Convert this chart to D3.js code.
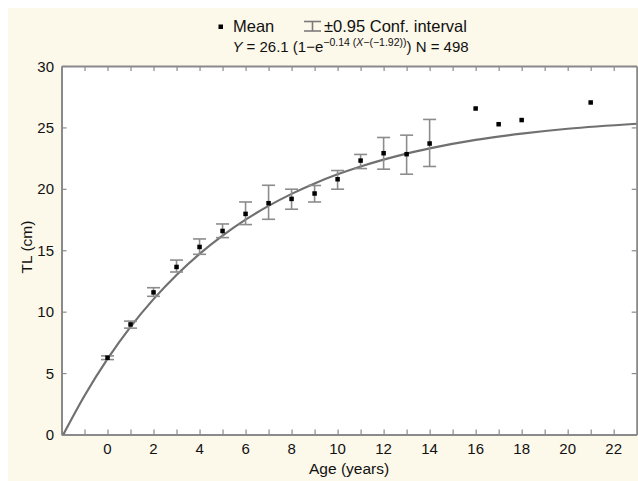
<!DOCTYPE html>
<html><head><meta charset="utf-8">
<script src="https://cdn.jsdelivr.net/npm/d3@7"></script>
<style>
html,body{margin:0;padding:0;background:#fff;}
svg{display:block;font-family:"Liberation Sans",Arial,sans-serif;}
</style></head>
<body>
<script>
// Data
const ages   = [0,1,2,3,4,5,6,7,8,9,10,11,12,13,14,16,17,18,21];
const means  = [6.25,8.96,11.57,13.64,15.27,16.57,17.96,18.83,19.18,19.62,20.78,22.3,22.9,22.82,23.69,26.54,25.26,25.6,27.03];
const ciLow  = [6.1,8.66,11.25,13.23,14.67,16.03,17.09,17.52,18.34,18.93,19.97,21.65,21.6,21.19,21.82,null,null,null,null];
const ciHigh = [6.4,9.23,11.95,14.2,15.92,17.14,18.93,20.29,19.97,20.27,21.49,22.8,24.18,24.37,25.65,null,null,null,null];
// fitted growth curve
const curveAge = [-1.92,-1,0,1,2,3,4,5,6,7,8,9,10,11,12,13,14,16,18,20,23];
const curveTL  = [0,3.15,6.15,8.76,11.02,12.99,14.7,16.19,17.49,18.61,19.59,20.44,21.18,21.82,22.38,22.87,23.29,23.98,24.49,24.89,25.3];
const xTickLabels = [0,2,4,6,8,10,12,14,16,18,20,22];
const yTickLabels = [0,5,10,15,20,25,30];

const W = 638, H = 481;
const svg = d3.select("body").append("svg").attr("width", W).attr("height", H);
svg.append("rect").attr("x", 8).attr("y", 8).attr("width", W - 8).attr("height", H - 8).attr("fill", "#fcf8ea");

const x = d3.scaleLinear().domain([-2, 23]).range([61.5, 636.7]);
const y = d3.scaleLinear().domain([0, 30]).range([434.5, 66]);

svg.append("rect").attr("x", x(-2)).attr("y", y(30)).attr("width", x(23) - x(-2)).attr("height", y(0) - y(30)).attr("fill", "#fff");

const axisCol = "#8a8a8a";
// ticks inside on all sides
const xt = d3.range(-1, 23, 1);
const axB = d3.axisBottom(x).tickValues(xt).tickSizeInner(-5).tickSizeOuter(0).tickFormat("");
const axT = d3.axisTop(x).tickValues(xt).tickSizeInner(-5).tickSizeOuter(0).tickFormat("");
const axL = d3.axisLeft(y).tickValues(yTickLabels).tickSizeInner(-5).tickSizeOuter(0).tickFormat("");
const axR = d3.axisRight(y).tickValues(yTickLabels).tickSizeInner(-5).tickSizeOuter(0).tickFormat("");
[[axB, `translate(0,${y(0)})`], [axT, `translate(0,${y(30)})`], [axL, `translate(${x(-2)},0)`], [axR, `translate(${x(23)},0)`]].forEach(([a, t]) => {
  const g = svg.append("g").attr("transform", t).call(a);
  g.select(".domain").attr("stroke", axisCol).attr("stroke-width", 2);
  g.selectAll(".tick line").attr("stroke", axisCol).attr("stroke-width", 1.2);
});

// tick labels
svg.append("g").selectAll("text").data(xTickLabels).join("text")
  .attr("x", d => x(d)).attr("y", 454).attr("text-anchor", "middle")
  .attr("font-size", 15).attr("fill", "#111").text(d => d);
svg.append("g").selectAll("text").data(yTickLabels).join("text")
  .attr("x", 54).attr("y", d => y(d) + 5.5).attr("text-anchor", "end")
  .attr("font-size", 15).attr("fill", "#111").text(d => d);

svg.append("text").attr("x", x(10.5)).attr("y", 474).attr("text-anchor", "middle")
  .attr("font-size", 15.5).attr("fill", "#111").text("Age (years)");
svg.append("text").attr("transform", `translate(32,247) rotate(-90)`).attr("text-anchor", "middle")
  .attr("font-size", 15.5).attr("fill", "#111").text("TL (cm)");

// fitted curve
const line = d3.line().x((d, i) => x(curveAge[i])).y(d => y(d)).curve(d3.curveMonotoneX);
svg.append("path").datum(curveTL).attr("d", line).attr("fill", "none")
  .attr("stroke", "#707070").attr("stroke-width", 2.2);

// error bars
const ebCol = "#8c8c8c", cap = 6.5;
const eb = svg.append("g").attr("stroke", ebCol).attr("stroke-width", 1.6).attr("fill", "none");
ages.forEach((a, i) => {
  if (ciLow[i] == null) return;
  eb.append("line").attr("x1", x(a)).attr("x2", x(a)).attr("y1", y(ciLow[i])).attr("y2", y(ciHigh[i]));
  eb.append("line").attr("x1", x(a) - cap).attr("x2", x(a) + cap).attr("y1", y(ciLow[i])).attr("y2", y(ciLow[i]));
  eb.append("line").attr("x1", x(a) - cap).attr("x2", x(a) + cap).attr("y1", y(ciHigh[i])).attr("y2", y(ciHigh[i]));
});
// means
svg.append("g").selectAll("rect").data(ages).join("rect")
  .attr("x", d => x(d) - 2.25).attr("y", (d, i) => y(means[i]) - 2.25)
  .attr("width", 4.5).attr("height", 4.5).attr("fill", "#000");

// legend
svg.append("rect").attr("x", 218.5).attr("y", 24.5).attr("width", 4.5).attr("height", 4.5).attr("fill", "#000");
svg.append("text").attr("x", 233).attr("y", 32).attr("font-size", 16.5).attr("fill", "#111").text("Mean");
const lg = svg.append("g").attr("stroke", "#7a7a7a").attr("stroke-width", 1.6);
lg.append("line").attr("x1", 304).attr("x2", 321).attr("y1", 21.5).attr("y2", 21.5);
lg.append("line").attr("x1", 304).attr("x2", 321).attr("y1", 31).attr("y2", 31);
lg.append("line").attr("x1", 312.5).attr("x2", 312.5).attr("y1", 21.5).attr("y2", 31);
svg.append("text").attr("x", 324).attr("y", 32).attr("font-size", 16.5).attr("fill", "#111").text("±0.95 Conf. interval");

const f = svg.append("text").attr("x", 350.5).attr("y", 51.5).attr("text-anchor", "middle").attr("font-size", 15).attr("fill", "#111");
f.append("tspan").attr("font-style", "italic").text("Y");
f.append("tspan").text(" = 26.1 (1\u2212e");
f.append("tspan").attr("font-size", 10.5).attr("dy", -6).text("\u22120.14 (");
f.append("tspan").attr("font-size", 10.5).attr("font-style", "italic").text("X");
f.append("tspan").attr("font-size", 10.5).text("\u2212(\u22121.92))");
f.append("tspan").attr("dy", 6).text(") N = 498");
</script>
</body></html>
